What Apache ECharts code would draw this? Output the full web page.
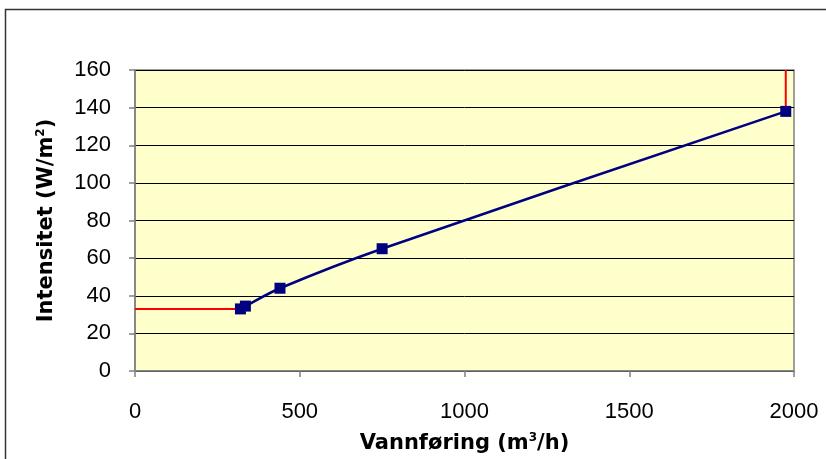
<!DOCTYPE html>
<html>
<head>
<meta charset="utf-8">
<script src="https://cdn.jsdelivr.net/npm/echarts@6/dist/echarts.min.js"></script>
<style>
html,body{margin:0;padding:0;background:#fff;}
#chart{width:826px;height:459px;}
</style>
</head>
<body>
<div id="chart"></div>
<script>
// Measured flow (m3/h) and intensity (W/m2)
const flow = [320, 335, 440, 750, 1975];
const intensity = [33, 34.5, 44, 65, 138];
// Red guide lines: minimum intensity level and maximum flow
const minLevelFlow = [0, 320];
const minLevelIntensity = [33, 33];
const maxFlowX = [1975, 1975];
const maxFlowY = [138, 160];
const yTicks = [0, 20, 40, 60, 80, 100, 120, 140, 160];
const xTicks = [0, 500, 1000, 1500, 2000];

const pairs = (xs, ys) => xs.map((x, i) => [x, ys[i]]);

const chart = echarts.init(document.getElementById('chart'));
const font = 'Liberation Sans, Arial, sans-serif';
const titleFont = 'DejaVu Sans, Liberation Sans, sans-serif';
const titleRich = {
  t: { fontFamily: titleFont, fontSize: 21, fontWeight: 'bold', color: '#000' },
  s: { fontFamily: titleFont, fontSize: 12, fontWeight: 'bold', color: '#000', verticalAlign: 'top', padding: [0, 0, 11, 0] }
};
chart.setOption({
  animation: false,
  graphic: [{
    type: 'rect',
    shape: { x: 5.5, y: 9.5, width: 900, height: 600 },
    style: { fill: null, stroke: '#333', lineWidth: 1.5 },
    z: 100
  }],
  grid: {
    left: 135, top: 70, right: 32, bottom: 87,
    show: true, backgroundColor: '#FFFFCC', borderColor: '#808080', borderWidth: 1.5
  },
  xAxis: {
    type: 'value', min: xTicks[0], max: xTicks[xTicks.length - 1], interval: 500,
    name: '{t|Vannføring (m}{s|3}{t|/h)}',
    nameLocation: 'middle', nameGap: 61,
    nameTextStyle: { rich: titleRich },
    axisLine: { show: true, lineStyle: { color: '#808080', width: 1.5 } },
    axisTick: { show: true, length: 6, lineStyle: { color: '#808080', width: 1.5 } },
    axisLabel: { fontFamily: font, fontSize: 22, color: '#000', margin: 30, formatter: v => String(v) },
    splitLine: { show: false }
  },
  yAxis: {
    type: 'value', min: yTicks[0], max: yTicks[yTicks.length - 1], interval: 20,
    name: '{t|Intensitet (W/m}{s|2}{t|)}',
    nameLocation: 'middle', nameGap: 77, nameRotate: 90,
    nameTextStyle: { rich: titleRich },
    axisLine: { show: true, lineStyle: { color: '#808080', width: 1.5 } },
    axisTick: { show: true, length: 6, lineStyle: { color: '#808080', width: 1.5 } },
    axisLabel: { fontFamily: font, fontSize: 22, color: '#000', margin: 24, formatter: v => String(v) },
    splitLine: { show: true, lineStyle: { color: '#000', width: 1 } }
  },
  series: [
    {
      type: 'line', data: pairs(minLevelFlow, minLevelIntensity),
      showSymbol: false, lineStyle: { color: '#FF0000', width: 2 }, z: 3
    },
    {
      type: 'line', data: pairs(maxFlowX, maxFlowY),
      showSymbol: false, lineStyle: { color: '#FF0000', width: 2 }, z: 3
    },
    {
      type: 'line', data: pairs(flow, intensity), smooth: 0.3,
      symbol: 'rect', symbolSize: 11,
      itemStyle: { color: '#000080' },
      lineStyle: { color: '#000080', width: 2.5 }, z: 4
    }
  ]
});
</script>
</body>
</html>
